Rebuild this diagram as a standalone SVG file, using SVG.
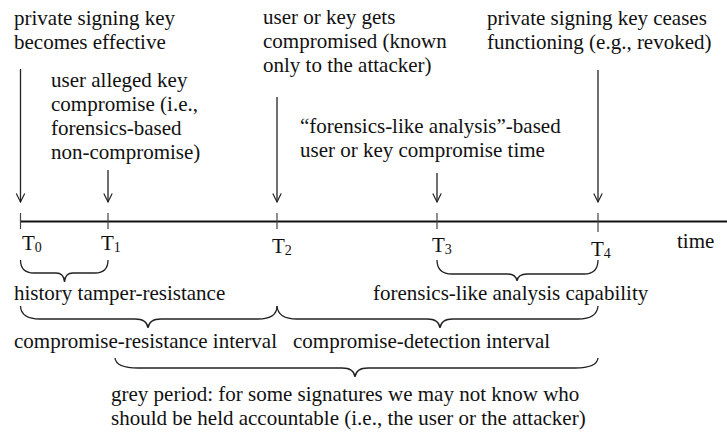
<svg xmlns="http://www.w3.org/2000/svg" width="727" height="436" viewBox="0 0 727 436" font-family="'Liberation Serif', 'DejaVu Serif', serif">
  <defs>
    <!-- open V arrowhead, drawn along +x so orient="auto" points it down the line -->
    <marker id="vee" markerWidth="12" markerHeight="12" refX="10" refY="6" orient="auto" markerUnits="userSpaceOnUse" viewBox="0 0 12 12">
      <path d="M1.5,1.8 L10,6 L1.5,10.2" fill="none" stroke="#222" stroke-width="1.2"/>
    </marker>
  </defs>
  <style>
    text { font-family: 'Liberation Serif', 'DejaVu Serif', serif; font-size: 21px; fill: #111; }
    .sub { font-size: 14px; }
    .axis { stroke: #111; stroke-width: 2; fill: none; }
    .tick { stroke: #444; stroke-width: 1.2; }
    .arrow { stroke: #222; stroke-width: 1.3; fill: none; marker-end: url(#vee); }
    .brace { stroke: #222; stroke-width: 1.3; fill: none; }
  </style>
  <rect width="727" height="436" fill="#fff"/>

  <!-- time axis with its ticks -->
  <g id="axis">
    <line class="axis" x1="20.5" y1="221.5" x2="727" y2="221.5"/>
    <line class="tick" x1="20.5" y1="213" x2="20.5" y2="229"/>
    <line class="tick" x1="108" y1="213" x2="108" y2="229"/>
    <line class="tick" x1="277" y1="213" x2="277" y2="229"/>
    <line class="tick" x1="437" y1="213" x2="437" y2="229"/>
    <line class="tick" x1="598" y1="213" x2="598" y2="232"/>
    <text x="677" y="248">time</text>
  </g>

  <!-- event markers T0..T4 -->
  <g id="t0">
    <text x="22" y="250">T<tspan class="sub" dy="2">0</tspan></text>
    <text x="14" y="25">private signing key</text>
    <text x="14" y="49">becomes effective</text>
  </g>
  <g id="t1">
    <text x="101" y="250">T<tspan class="sub" dy="2">1</tspan></text>
    <text x="51" y="87">user alleged key</text>
    <text x="51" y="111">compromise (i.e.,</text>
    <text x="51" y="135">forensics-based</text>
    <text x="51" y="159">non-compromise)</text>
  </g>
  <g id="t2">
    <text x="272" y="253">T<tspan class="sub" dy="2">2</tspan></text>
    <text x="263" y="24">user or key gets</text>
    <text x="263" y="48">compromised (known</text>
    <text x="263" y="72">only to the attacker)</text>
  </g>
  <g id="t3">
    <text x="432" y="252">T<tspan class="sub" dy="2">3</tspan></text>
    <text x="300" y="133">“forensics-like analysis”-based</text>
    <text x="300" y="157">user or key compromise time</text>
  </g>
  <g id="t4">
    <text x="591" y="256">T<tspan class="sub" dy="2">4</tspan></text>
    <text x="487" y="25">private signing key ceases</text>
    <text x="487" y="49">functioning (e.g., revoked)</text>
  </g>

  <!-- interval labels -->
  <g id="history">
    <text x="14" y="300">history tamper-resistance</text>
  </g>
  <g id="forensics">
    <text x="373" y="300">forensics-like analysis capability</text>
  </g>
  <g id="resistance">
    <text x="14" y="348">compromise-resistance interval</text>
  </g>
  <g id="detection">
    <text x="293" y="348">compromise-detection interval</text>
  </g>
  <g id="grey">
    <text x="111" y="401">grey period: for some signatures we may not know who</text>
    <text x="111" y="425">should be held accountable (i.e., the user or the attacker)</text>
  </g>

  <!-- connectors: event arrows and interval braces -->
  <g id="connectors">
    <line class="arrow" x1="20.5" y1="69" x2="20.5" y2="202"/>
    <line class="arrow" x1="108" y1="170" x2="108" y2="202"/>
    <line class="arrow" x1="277" y1="97" x2="277" y2="202"/>
    <line class="arrow" x1="437" y1="173" x2="437" y2="202"/>
    <line class="arrow" x1="598" y1="70" x2="598" y2="202"/>

    <!-- T0..T1 -->
    <path class="brace" d="M20.5,260 Q20.5,273 34,273 L56,273 Q64,273 64.5,282 Q65,273 73,273 L95,273 Q108,273 108,260"/>
    <!-- T3..T4 -->
    <path class="brace" d="M437,260 Q437,274 452,274 L507,274 Q516,274 517,281 Q518,274 527,274 L584,274 Q598,274 598,260"/>
    <!-- T0..T2 -->
    <path class="brace" d="M20.5,306 Q21,319 40,319 L135,319 Q147,319 148,328 Q149,319 161,319 L258,319 Q277,319 277,306"/>
    <!-- T2..T4 -->
    <path class="brace" d="M277,306 Q278,319 297,319 L427,319 Q439,319 440,328 Q441,319 453,319 L578,319 Q597,319 598,306"/>
    <!-- grey period -->
    <path class="brace" d="M115,358 Q116,368 138,368 L342,368 Q354,368 355,377 Q356,368 368,368 L575,368 Q597,368 598,358"/>
  </g>
</svg>
